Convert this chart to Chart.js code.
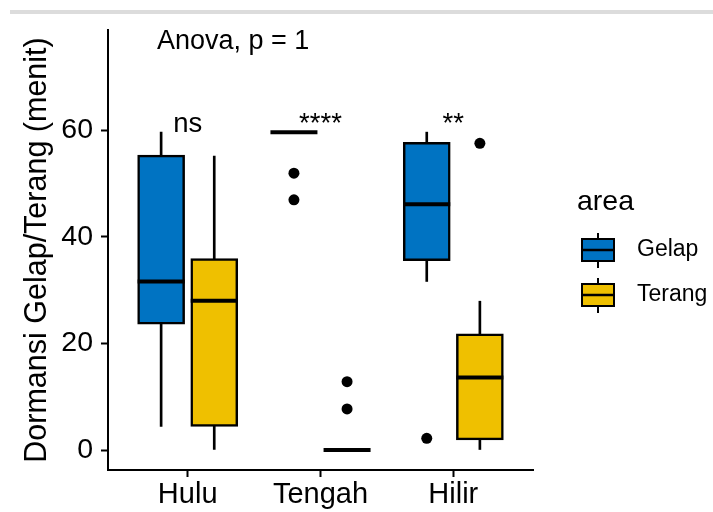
<!DOCTYPE html>
<html>
<head>
<meta charset="utf-8">
<style>
  html, body { margin: 0; padding: 0; background: #fff; }
  #wrap { position: relative; width: 713px; height: 512px; overflow: hidden; }
  #topbar { position: absolute; left: 10px; right: 0; top: 10px; height: 4px; background: #dcdcdc; }
  canvas { position: absolute; left: 0; top: 0; }
</style>
<script src="https://cdn.jsdelivr.net/npm/chart.js@4/dist/chart.umd.min.js"></script>
</head>
<body>
<div id="wrap">
  <div id="topbar"></div>
  <canvas id="chart" width="713" height="512"></canvas>
</div>
<script>
  const categories = ["Hulu", "Tengah", "Hilir"];
  const groups = ["Gelap", "Terang"];
  const groupColors = ["#0073C2", "#EFC000"];

  // box stats per category (Hulu, Tengah, Hilir)
  const gelapLow = [4.4, 59.6, 31.6];
  const gelapQ1 = [23.6, 59.6, 35.5];
  const gelapMedian = [31.6, 59.6, 46.1];
  const gelapQ3 = [55.3, 59.6, 57.7];
  const gelapHigh = [59.6, 59.6, 59.6];
  const gelapOutliers = [[], [51.9, 46.9], [2.2]];

  const terangLow = [0, 0, 0];
  const terangQ1 = [4.4, 0, 1.9];
  const terangMedian = [28.0, 0, 13.6];
  const terangQ3 = [35.9, 0, 21.8];
  const terangHigh = [55.1, 0, 27.9];
  const terangOutliers = [[], [12.8, 7.7], [57.5]];

  const yTicks = [0, 20, 40, 60];
  const signifLabels = ["ns", "****", "**"];
  const anovaLabel = "Anova, p = 1";
  const yTitle = "Dormansi Gelap/Terang (menit)";
  const legendTitle = "area";

  const FONT = "'Liberation Sans', Arial, Helvetica, sans-serif";
  Chart.defaults.font.family = FONT;
  Chart.defaults.color = "#000";

  const stats = [
    { low: gelapLow, q1: gelapQ1, med: gelapMedian, q3: gelapQ3, high: gelapHigh, out: gelapOutliers },
    { low: terangLow, q1: terangQ1, med: terangMedian, q3: terangQ3, high: terangHigh, out: terangOutliers },
  ];
  const dodge = [-0.2, 0.2];

  const datasets = [];
  stats.forEach((s, g) => {
    const xs = categories.map((_, i) => i + 1 + dodge[g]);
    datasets.push({
      type: "bar",
      label: groups[g] + " whisker",
      data: xs.map((x, i) => ({ x, y: [s.low[i], s.high[i]] })),
      backgroundColor: "#000",
      borderWidth: 0,
      barThickness: 2,
      grouped: false,
      order: 4,
    });
    datasets.push({
      type: "bar",
      label: groups[g],
      data: xs.map((x, i) => ({ x, y: [s.q1[i], s.q3[i]] })),
      backgroundColor: groupColors[g],
      borderColor: "#000",
      borderWidth: 2.5,
      borderSkipped: false,
      barThickness: 47,
      grouped: false,
      order: 3,
    });
    datasets.push({
      type: "scatter",
      label: groups[g] + " median",
      data: xs.map((x, i) => ({ x, y: s.med[i] })),
      pointStyle: "line",
      pointRadius: 23.5,
      pointBorderWidth: 4,
      pointBorderColor: "#000",
      order: 2,
    });
    const outPts = [];
    s.out.forEach((vals, i) => vals.forEach(v => outPts.push({ x: xs[i], y: v })));
    datasets.push({
      type: "scatter",
      label: groups[g] + " outlier",
      data: outPts,
      pointRadius: 5.5,
      pointBackgroundColor: "#000",
      pointBorderWidth: 0,
      order: 1,
    });
  });

  const annotations = {
    id: "annotations",
    afterDatasetsDraw(chart) {
      const { ctx, chartArea, scales: { x, y } } = chart;
      ctx.save();
      ctx.fillStyle = "#000";
      ctx.font = "27.5px " + FONT;
      ctx.textBaseline = "alphabetic";
      ctx.textAlign = "center";
      signifLabels.forEach((t, i) => {
        ctx.fillText(t, x.getPixelForValue(i + 1), y.getPixelForValue(59.7));
      });
      ctx.font = "27px " + FONT;
      ctx.textAlign = "left";
      ctx.fillText(anovaLabel, chartArea.left + 49, chartArea.top + 19);

      // legend
      ctx.font = "28.5px " + FONT;
      ctx.fillText(legendTitle, 577, 210);
      ctx.font = "23px " + FONT;
      ctx.textBaseline = "middle";
      groups.forEach((gName, g) => {
        const cy = 250 + g * 45;
        const bx = 582, bw = 32, bh = 22;
        ctx.strokeStyle = "#000";
        ctx.lineWidth = 2;
        ctx.beginPath();
        ctx.moveTo(bx + bw / 2, cy - 17);
        ctx.lineTo(bx + bw / 2, cy + 18);
        ctx.stroke();
        ctx.fillStyle = groupColors[g];
        ctx.fillRect(bx, cy - bh / 2, bw, bh);
        ctx.strokeRect(bx, cy - bh / 2, bw, bh);
        ctx.lineWidth = 2.5;
        ctx.beginPath();
        ctx.moveTo(bx, cy);
        ctx.lineTo(bx + bw, cy);
        ctx.stroke();
        ctx.fillStyle = "#000";
        ctx.fillText(gName, 637, cy);
      });
      ctx.restore();
    },
  };

  new Chart(document.getElementById("chart"), {
    type: "bar",
    data: { datasets },
    plugins: [annotations],
    options: {
      responsive: false,
      animation: false,
      layout: { padding: { top: 30, right: 180, bottom: 0, left: 0 } },
      plugins: {
        legend: { display: false },
        tooltip: { enabled: false },
      },
      scales: {
        x: {
          type: "linear",
          min: 0.4,
          max: 3.6,
          offset: false,
          afterBuildTicks: (scale) => {
            scale.ticks = categories.map((_, i) => ({ value: i + 1 }));
          },
          afterFit: (scale) => { scale.height = 42; },
          ticks: {
            callback: (v) => categories[v - 1],
            font: { size: 29 },
            color: "#000",
            padding: 1,
            maxRotation: 0,
            autoSkip: false,
          },
          grid: {
            offset: false,
            drawOnChartArea: false,
            drawTicks: true,
            tickLength: 7,
            tickWidth: 2,
            tickColor: "#000",
          },
          border: { display: true, color: "#000", width: 2 },
        },
        y: {
          type: "linear",
          min: -3.75,
          max: 78.75,
          afterBuildTicks: (scale) => {
            scale.ticks = yTicks.map(v => ({ value: v }));
          },
          afterFit: (scale) => { scale.width = 108; },
          ticks: {
            font: { size: 28.5 },
            color: "#000",
            padding: 8,
          },
          grid: {
            drawOnChartArea: false,
            drawTicks: true,
            tickLength: 7,
            tickWidth: 2,
            tickColor: "#000",
          },
          border: { display: true, color: "#000", width: 2 },
          title: {
            display: true,
            text: yTitle,
            font: { size: 30.5 },
            color: "#000",
            padding: { top: 19, bottom: 0 },
          },
        },
      },
    },
  });
</script>
</body>
</html>
